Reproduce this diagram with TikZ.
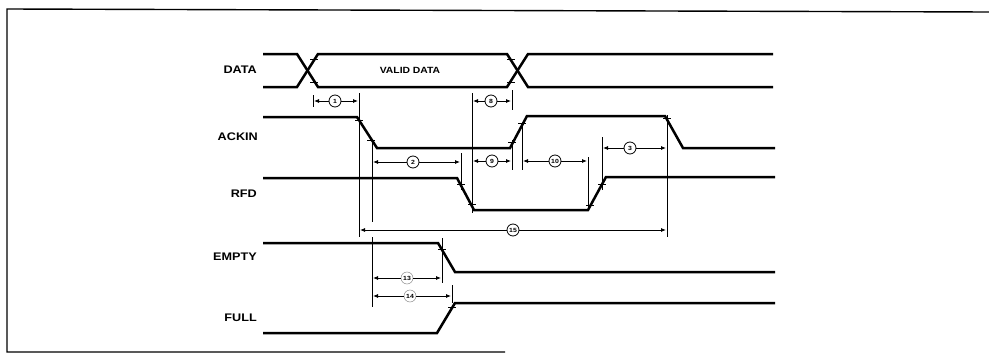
\documentclass[tikz,border=0pt]{standalone}
\usepackage{fontspec}
\setmainfont{Liberation Sans}
\newfontfamily\lblfont[FakeStretch=1.15]{Liberation Sans}
\usetikzlibrary{arrows.meta}
\tikzset{
  sig/.style={line width=2.5pt},
  refline/.style={line width=1pt},
  frameline/.style={line width=1.4pt},
  dimarrow/.style={line width=0.8pt,-{Latex[length=5pt,width=4pt]}},
  num/.style={circle,draw,line width=0.8pt,inner sep=0pt,minimum size=12pt,
    font=\lblfont\bfseries\fontsize{6}{6}\selectfont},
  faintnum/.style={num,draw=black!45,line width=0.5pt},
  lbl/.style={anchor=east,inner sep=0pt,font=\lblfont\bfseries\fontsize{11}{11}\selectfont},
  tkline/.style={line width=0.8pt}
}
\newcommand\tmk[2]{\draw[tkline] (#1-4,#2) -- (#1+4,#2);}
\begin{document}
\begin{tikzpicture}[x=1pt,y=-1pt]
\useasboundingbox (0,0) rectangle (989,356);
% frame
\draw[frameline] (989,12) -- (7,9) -- (7,352) -- (505,352);
% labels
\node[lbl] (ldata) at (257,70) {DATA};
\node[lbl] (lack) at (258,137) {ACKIN};
\node[lbl] (lrfd) at (257,194) {RFD};
\node[lbl] (lempty) at (257,257) {EMPTY};
\node[lbl] (lfull) at (257,318) {FULL};
\node[font=\lblfont\bfseries\fontsize{9}{9}\selectfont] (valid) at (410,70) {VALID DATA};
% signals
\draw[sig] (263,54) -- (297,54) -- (318,87) -- (507,87) -- (528,54) -- (773,54);
\draw[sig] (263,87) -- (297,87) -- (318,54) -- (507,54) -- (528,87) -- (773,87);
\draw[sig] (263,117) -- (357,117) -- (377,148) -- (510,148) -- (527,116) -- (665,116) -- (683,148) -- (775,148);
\draw[sig] (263,178) -- (457,178) -- (474,210) -- (588,210) -- (606,177) -- (775,177);
\draw[sig] (263,243) -- (438,243) -- (455,272) -- (775,272);
\draw[sig] (263,333) -- (437,333) -- (455,303) -- (775,303);
% reference lines
\draw[refline] (359,93) -- (359,237);
\draw[refline] (372,140) -- (372,222);
\draw[refline] (372,237) -- (372,307);
\draw[refline] (472,93) -- (472,213);
\draw[refline] (461,153) -- (461,190);
\draw[refline] (512,90) -- (512,110);
\draw[refline] (512,140) -- (512,170);
\draw[refline] (522,122) -- (522,170);
\draw[refline] (588,157) -- (588,210);
\draw[refline] (602,137) -- (602,190);
\draw[refline] (667,115) -- (667,237);
\draw[refline] (313,95) -- (313,107);
\draw[refline] (442,238) -- (442,283);
\draw[refline] (452,285) -- (452,303);
% tick marks
\tmk{314}{59} \tmk{314}{82} \tmk{511}{59} \tmk{511}{82}
\tmk{359}{120} \tmk{371}{140}
\tmk{512}{142} \tmk{522}{123}
\tmk{667}{118}
\tmk{461}{184} \tmk{472}{204}
\tmk{590}{205} \tmk{602}{184}
\tmk{442}{249}
\tmk{452}{307}
% dimensions
\node[num] (c1) at (335,101) {1};
\coordinate (c1l) at (314,101); \coordinate (c1r) at (358,101);
\draw[dimarrow] (c1) -- (c1l); \draw[dimarrow] (c1) -- (c1r);
\node[num] (c8) at (491,101) {8};
\coordinate (c8l) at (473,101); \coordinate (c8r) at (511,101);
\draw[dimarrow] (c8) -- (c8l); \draw[dimarrow] (c8) -- (c8r);
\node[num] (c2) at (413,162) {2};
\coordinate (c2l) at (373,162); \coordinate (c2r) at (460,162);
\draw[dimarrow] (c2) -- (c2l); \draw[dimarrow] (c2) -- (c2r);
\node[num] (c9) at (492,161) {9};
\coordinate (c9l) at (473,161); \coordinate (c9r) at (511,161);
\draw[dimarrow] (c9) -- (c9l); \draw[dimarrow] (c9) -- (c9r);
\node[num] (c10) at (555,161) {10};
\coordinate (c10l) at (523,161); \coordinate (c10r) at (587,161);
\draw[dimarrow] (c10) -- (c10l); \draw[dimarrow] (c10) -- (c10r);
\node[num] (c3) at (630,148) {3};
\coordinate (c3l) at (603,148); \coordinate (c3r) at (666,148);
\draw[dimarrow] (c3) -- (c3l); \draw[dimarrow] (c3) -- (c3r);
\node[num] (c15) at (513,230) {15};
\coordinate (c15l) at (360,230); \coordinate (c15r) at (666,230);
\draw[dimarrow] (c15) -- (c15l); \draw[dimarrow] (c15) -- (c15r);
\node[faintnum] (c13) at (407,278) {13};
\coordinate (c13l) at (373,278); \coordinate (c13r) at (441,278);
\draw[dimarrow] (c13) -- (c13l); \draw[dimarrow] (c13) -- (c13r);
\node[faintnum] (c14) at (410,296) {14};
\coordinate (c14l) at (373,296); \coordinate (c14r) at (451,296);
\draw[dimarrow] (c14) -- (c14l); \draw[dimarrow] (c14) -- (c14r);
\end{tikzpicture}
\end{document}
